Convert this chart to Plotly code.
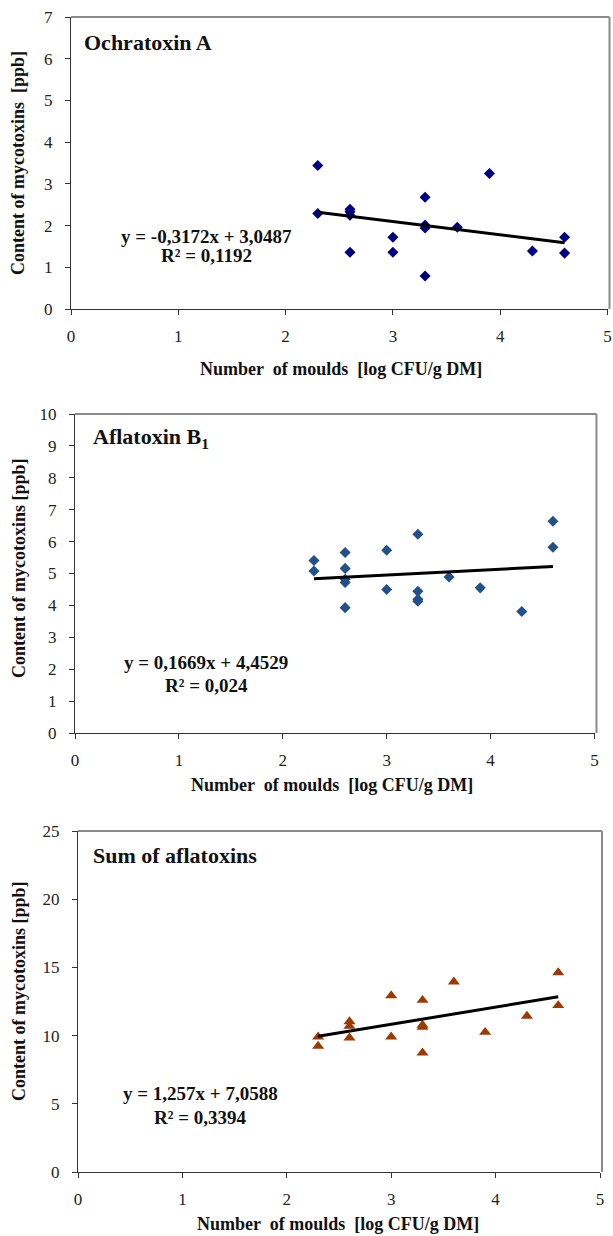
import plotly.graph_objects as go

# ---------------- data ----------------
ota_x = [2.3, 2.3, 2.6, 2.6, 2.6, 2.6, 3.0, 3.0, 3.3, 3.3, 3.3, 3.3, 3.6, 3.9, 4.3, 4.6, 4.6]
ota_y = [3.44, 2.29, 2.39, 2.33, 2.25, 1.36, 1.72, 1.36, 2.68, 2.01, 1.94, 0.79, 1.96, 3.25, 1.39, 1.72, 1.34]

afb1_x = [2.3, 2.3, 2.6, 2.6, 2.6, 2.6, 2.6, 3.0, 3.0, 3.3, 3.3, 3.3, 3.3, 3.6, 3.9, 4.3, 4.6, 4.6]
afb1_y = [5.41, 5.08, 5.66, 5.16, 4.82, 4.72, 3.93, 5.73, 4.50, 6.23, 4.44, 4.19, 4.13, 4.89, 4.55, 3.81, 6.64, 5.82]

sum_x = [2.3, 2.3, 2.6, 2.6, 2.6, 3.0, 3.0, 3.3, 3.3, 3.3, 3.3, 3.6, 3.9, 4.3, 4.6, 4.6]
sum_y = [9.91, 9.23, 11.03, 10.69, 9.84, 12.94, 9.91, 12.6, 10.77, 10.62, 8.74, 13.94, 10.25, 11.43, 14.62, 12.21]

panel_titles = ["Ochratoxin A", "Aflatoxin B<sub>1</sub>", "Sum of aflatoxins"]
slopes = [-0.3172, 0.1669, 1.257]
intercepts = [3.0487, 4.4529, 7.0588]
equations = ["y = -0,3172x + 3,0487", "y = 0,1669x + 4,4529", "y = 1,257x + 7,0588"]
r2_texts = ["R² = 0,1192", "R² = 0,024", "R² = 0,3394"]
trend_x = [2.3, 4.6]
y_max = [7, 10, 25]
y_dtick = [1, 1, 5]
x_ticks = [0, 1, 2, 3, 4, 5]
x_title = "Number  of moulds  [log CFU/g DM]"
y_titles = ["Content of mycotoxins  [ppb]", "Content of mycotoxins [ppb]", "Content of mycotoxins [ppb]"]

# ---------------- layout geometry ----------------
W, H = 613, 1236
FONT = "Liberation Serif"

def px_x(p):
    return p / W

def px_y(p):
    return 1 - p / H

# plot area pixels: (left, right(x=5), top, bottom)
areas = [(71, 607.5, 17, 309), (75, 594.5, 414, 733), (78, 600, 831, 1172)]
xtitle_pos = [(341, 369), (332, 785), (338, 1224)]
ytitle_pos = [(18, 163), (19, 568), (19, 991)]
ptitle_pos = [(82, 43), (91, 438), (91, 855)]
eq_pos = [(206, 236, 256), (206, 662, 685), (200, 1093, 1117)]

marker_cfg = [
    dict(symbol="diamond", size=8.5, color="#000080"),
    dict(symbol="diamond", size=8.5, color="#22508a"),
    dict(symbol="triangle-up", size=10.5, color="#9c3a00"),
]
xs = [ota_x, afb1_x, sum_x]
ys = [ota_y, afb1_y, sum_y]

fig = go.Figure()
layout = dict(
    width=W, height=H, margin=dict(l=0, r=0, t=0, b=0, pad=0, autoexpand=False),
    paper_bgcolor="white", plot_bgcolor="white", showlegend=False,
    font=dict(family=FONT, size=17, color="#222"),
)
annotations = []
shapes = []

for i in range(3):
    sfx = "" if i == 0 else str(i + 1)
    xa, ya = "x" + sfx, "y" + sfx
    left, right, top, bottom = areas[i]
    fig.add_trace(go.Scatter(
        x=xs[i], y=ys[i], mode="markers", xaxis=xa, yaxis=ya,
        marker=dict(symbol=marker_cfg[i]["symbol"], size=marker_cfg[i]["size"],
                    color=marker_cfg[i]["color"], line=dict(width=0)),
    ))
    ty = [slopes[i] * t + intercepts[i] for t in trend_x]
    fig.add_trace(go.Scatter(
        x=trend_x, y=ty, mode="lines", xaxis=xa, yaxis=ya,
        line=dict(color="black", width=3),
    ))
    layout["xaxis" + sfx] = dict(
        domain=[px_x(left), px_x(right)], range=[0, 5], anchor=ya,
        tickvals=x_ticks, ticks="outside", ticklen=5, tickcolor="#333",
        ticklabelstandoff=7, automargin=False,
        showline=True, linecolor="#333", linewidth=1, showgrid=False, zeroline=False,
        tickfont=dict(family=FONT, size=17, color="#222"), fixedrange=True,
    )
    layout["yaxis" + sfx] = dict(
        domain=[px_y(bottom), px_y(top)], range=[0, y_max[i]], anchor=xa,
        dtick=y_dtick[i], ticks="outside", ticklen=5, tickcolor="#333",
        ticklabelstandoff=9, automargin=False,
        showline=True, linecolor="#333", linewidth=1, showgrid=False, zeroline=False,
        tickfont=dict(family=FONT, size=17, color="#222"), fixedrange=True,
    )
    # gray top/right border
    shapes.append(dict(type="line", xref="paper", yref="paper",
                       x0=px_x(left), x1=px_x(right + 2), y0=px_y(top), y1=px_y(top),
                       line=dict(color="#8a8a8a", width=2), layer="below"))
    shapes.append(dict(type="line", xref="paper", yref="paper",
                       x0=px_x(right + 2), x1=px_x(right + 2), y0=px_y(top), y1=px_y(bottom),
                       line=dict(color="#8a8a8a", width=2), layer="below"))
    # axis titles
    annotations.append(dict(text="<b>" + x_title + "</b>", xref="paper", yref="paper",
                            x=px_x(xtitle_pos[i][0]), y=px_y(xtitle_pos[i][1]),
                            xanchor="center", yanchor="middle", showarrow=False,
                            font=dict(family=FONT, size=18, color="#111")))
    annotations.append(dict(text="<b>" + y_titles[i] + "</b>", xref="paper", yref="paper",
                            x=px_x(ytitle_pos[i][0]), y=px_y(ytitle_pos[i][1]),
                            xanchor="center", yanchor="middle", showarrow=False, textangle=-90,
                            font=dict(family=FONT, size=18, color="#111")))
    # panel title
    annotations.append(dict(text="<b>" + panel_titles[i] + "</b>", xref="paper", yref="paper",
                            x=px_x(ptitle_pos[i][0]), y=px_y(ptitle_pos[i][1]),
                            xanchor="left", yanchor="middle", showarrow=False,
                            font=dict(family=FONT, size=22, color="#111")))
    # equation
    annotations.append(dict(text="<b>" + equations[i] + "</b>", xref="paper", yref="paper",
                            x=px_x(eq_pos[i][0]), y=px_y(eq_pos[i][1]),
                            xanchor="center", yanchor="middle", showarrow=False,
                            font=dict(family=FONT, size=19, color="#111")))
    annotations.append(dict(text="<b>" + r2_texts[i] + "</b>", xref="paper", yref="paper",
                            x=px_x(eq_pos[i][0]), y=px_y(eq_pos[i][2]),
                            xanchor="center", yanchor="middle", showarrow=False,
                            font=dict(family=FONT, size=19, color="#111")))

layout["annotations"] = annotations
layout["shapes"] = shapes
fig.update_layout(**layout)
fig.write_html(
    "out.html",
    config={"displayModeBar": False},
    post_script="document.body.style.margin='0';document.body.style.padding='0';"
                "document.documentElement.style.overflow='hidden';",
)
